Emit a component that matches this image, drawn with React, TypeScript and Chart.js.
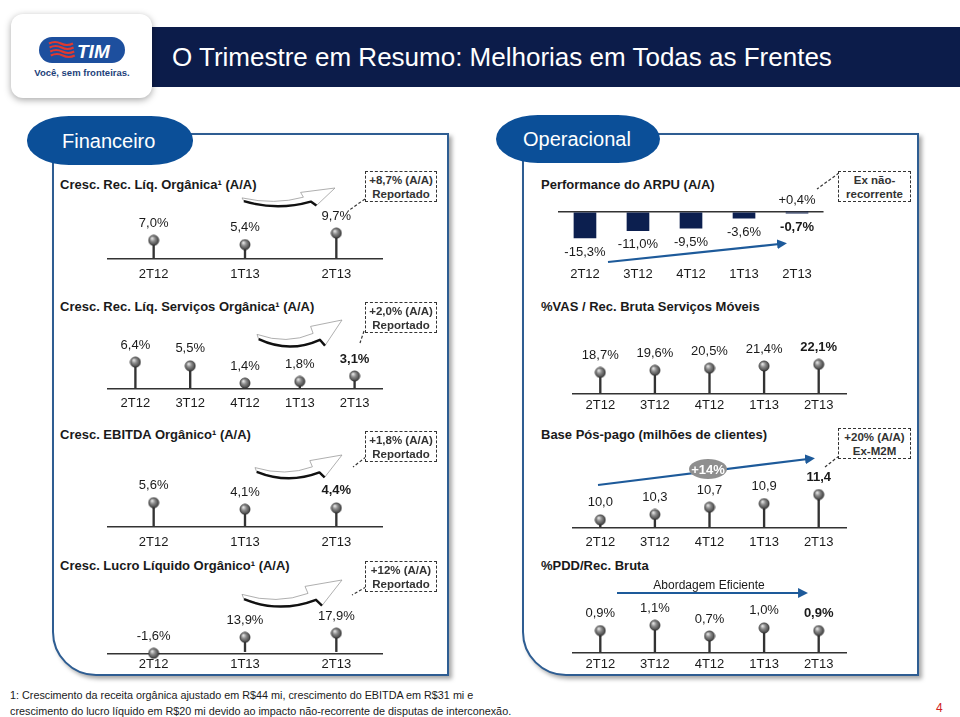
import React, { useEffect, useRef } from 'react';
import { Chart, registerables } from 'chart.js';
Chart.register(...registerables);

const FONT = '"Liberation Sans", Arial, Helvetica, sans-serif';
const INK = '#1a1a1a';
const NAVY = '#0c1f4f';
const BLUE_ARROW = '#1d5a9a';

// ---- data ----
const quartersShort = ['2T12', '1T13', '2T13'];
const quartersLong = ['2T12', '3T12', '4T12', '1T13', '2T13'];

const recLiqValues = [7.0, 5.4, 9.7];
const servicosValues = [6.4, 5.5, 1.4, 1.8, 3.1];
const ebitdaValues = [5.6, 4.1, 4.4];
const lucroValues = [-1.6, 13.9, 17.9];
const arpuValues = [-15.3, -11.0, -9.5, -3.6, -0.7];
const arpuExValues = [null, null, null, null, 0.4];
const vasValues = [18.7, 19.6, 20.5, 21.4, 22.1];
const posPagoValues = [10.0, 10.3, 10.7, 10.9, 11.4];
const pddValues = [0.9, 1.1, 0.7, 1.0, 0.9];

function makeBall(): HTMLCanvasElement {
  const c = document.createElement('canvas');
  c.width = 12;
  c.height = 12;
  const g = c.getContext('2d')!;
  const grad = g.createRadialGradient(4.3, 4, 0.4, 6, 6, 6.4);
  grad.addColorStop(0, '#e4e4e4');
  grad.addColorStop(0.35, '#8c8c8c');
  grad.addColorStop(1, '#262626');
  g.fillStyle = grad;
  g.beginPath();
  g.arc(6, 6, 5.2, 0, Math.PI * 2);
  g.fill();
  g.strokeStyle = 'rgba(30,30,30,0.7)';
  g.lineWidth = 0.6;
  g.stroke();
  return c;
}

const valueLabels = {
  id: 'valueLabels',
  afterDatasetsDraw(chart: any) {
    const ctx = chart.ctx;
    chart.data.datasets.forEach((ds: any, i: number) => {
      if (!ds.showValues) return;
      const meta = chart.getDatasetMeta(i);
      meta.data.forEach((el: any, j: number) => {
        const v = ds.data[j];
        if (v === null || v === undefined) return;
        const bold = ds.boldIndex === j;
        ctx.save();
        ctx.font = `${bold ? 'bold ' : ''}13px ${FONT}`;
        ctx.fillStyle = INK;
        ctx.textAlign = 'center';
        ctx.textBaseline = 'middle';
        let y: number;
        if (ds.labelMode === 'bar') y = v < 0 ? el.y + 14 : el.y - 11;
        else y = el.y - 17;
        const txt = (v > 0 && ds.plusSign ? '+' : '') + v.toFixed(1).replace('.', ',') + (ds.suffix ?? '%');
        ctx.fillText(txt, el.x, y);
        ctx.restore();
      });
    });
  },
};

type PinSpec = {
  left: number; top: number; width: number; axisY: number;
  cats: string[]; values: number[]; min: number; slope: number; pad: number;
  bold?: number; suffix?: string;
};

function PinChart({ spec }: { spec: PinSpec }) {
  const ref = useRef<HTMLCanvasElement>(null);
  const plotH = spec.axisY - spec.top;
  const axisH = 13 * 1.2 + 2 * spec.pad;
  const H = Math.ceil(plotH + axisH);
  const extra = H - plotH - axisH;
  useEffect(() => {
    const ball = makeBall();
    const chart = new Chart(ref.current!, {
      type: 'bar',
      data: {
        labels: spec.cats,
        datasets: [
          { type: 'bar', data: spec.values, backgroundColor: '#333', barThickness: 1.7, order: 2 } as any,
          {
            type: 'line', data: spec.values, showLine: false, pointStyle: ball, pointRadius: 6,
            order: 1, clip: false, showValues: true, boldIndex: spec.bold ?? -1, suffix: spec.suffix ?? '%',
          } as any,
        ],
      },
      options: {
        responsive: false, animation: false, events: [],
        layout: { padding: { left: 0, right: 0, top: 0, bottom: extra } },
        plugins: { legend: { display: false }, tooltip: { enabled: false } },
        scales: {
          x: {
            offset: true,
            grid: { display: false, drawTicks: false },
            border: { display: true, color: '#333', width: 1.5 },
            ticks: { color: INK, font: { family: FONT, size: 13 }, padding: spec.pad, maxRotation: 0, autoSkip: false },
          },
          y: { display: false, min: spec.min, max: spec.min + plotH / spec.slope },
        },
      } as any,
      plugins: [valueLabels],
    });
    return () => chart.destroy();
  }, []);
  return (
    <canvas ref={ref} width={spec.width} height={H}
      style={{ position: 'absolute', left: spec.left, top: spec.top, width: spec.width, height: H }} />
  );
}

function ArpuChart() {
  const ref = useRef<HTMLCanvasElement>(null);
  const left = 550, top = 188, width = 282, zeroY = 212, slope = 1.7, min = -20, pad = 21;
  const max = (zeroY - top) / slope;
  const plotH = (max - min) * slope;
  const axisH = 13 * 1.2 + 2 * pad;
  const H = Math.ceil(plotH + axisH);
  const extra = H - plotH - axisH;
  useEffect(() => {
    const chart = new Chart(ref.current!, {
      type: 'bar',
      data: {
        labels: quartersLong,
        datasets: [
          {
            data: arpuValues, backgroundColor: NAVY, barThickness: 22,
            showValues: true, labelMode: 'bar', boldIndex: 4,
          } as any,
          {
            data: arpuExValues, backgroundColor: 'rgba(255,255,255,0)', borderColor: NAVY, borderWidth: 1,
            borderSkipped: false, barThickness: 22, showValues: true, labelMode: 'bar', plusSign: true,
          } as any,
        ],
      },
      options: {
        responsive: false, animation: false, events: [],
        layout: { padding: { left: 0, right: 0, top: 0, bottom: extra } },
        plugins: { legend: { display: false }, tooltip: { enabled: false } },
        scales: {
          x: {
            stacked: true, offset: true,
            grid: { display: false, drawTicks: false },
            border: { display: false },
            ticks: { color: INK, font: { family: FONT, size: 13 }, padding: pad, maxRotation: 0, autoSkip: false },
          },
          y: {
            stacked: true, min, max,
            ticks: { display: false, stepSize: 5 },
            border: { display: false },
            grid: {
              drawTicks: false, lineWidth: 1.5,
              color: (c: any) => (c.tick && c.tick.value === 0 ? '#333' : 'rgba(0,0,0,0)'),
            },
          },
        },
      } as any,
      plugins: [valueLabels],
    });
    return () => chart.destroy();
  }, []);
  return (
    <canvas ref={ref} width={width} height={H}
      style={{ position: 'absolute', left, top, width, height: H }} />
  );
}

function Txt(props: { x: number; y: number; text: string; size?: number; bold?: boolean; color?: string; center?: boolean }) {
  const size = props.size ?? 13;
  return (
    <div style={{
      position: 'absolute', left: props.x, top: props.y - size * 0.6, lineHeight: `${size * 1.2}px`,
      fontSize: size, fontWeight: props.bold ? 'bold' : 'normal', color: props.color ?? INK,
      whiteSpace: 'nowrap', fontFamily: FONT, transform: props.center ? 'translateX(-50%)' : undefined,
    }}>{props.text}</div>
  );
}

function DashBox(props: { x: number; y: number; w: number; h: number; l1: string; l2: string }) {
  return (
    <div style={{
      position: 'absolute', left: props.x, top: props.y, width: props.w, height: props.h,
      border: '1.5px dashed #333', background: '#fff', boxSizing: 'border-box',
      fontFamily: FONT, fontSize: 11.5, fontWeight: 'bold', color: '#333', textAlign: 'center',
      lineHeight: '14px', paddingTop: 1, zIndex: 3,
    }}>
      <div>{props.l1}</div>
      <div>{props.l2}</div>
    </div>
  );
}

function swoosh(x: number, y: number, w: number, h: number) {
  const P = (u: number, v: number) => `${(x + u * w).toFixed(1)},${(y + v * h).toFixed(1)}`;
  const band = `M${P(0, 0.45)} Q${P(0.35, 0.78)} ${P(0.66, 0.42)} L${P(0.63, 0.2)} L${P(1, 0)} L${P(0.8, 0.8)} L${P(0.74, 0.62)} Q${P(0.38, 1.05)} ${P(0.02, 0.6)} Z`;
  const shadow = `M${P(0.02, 0.6)} Q${P(0.38, 1.05)} ${P(0.74, 0.62)} L${P(0.8, 0.8)}`;
  return { band, shadow };
}

const pinSpecs: PinSpec[] = [
  { left: 101, top: 195, width: 288, axisY: 259, cats: quartersShort, values: recLiqValues, min: 0, slope: 3.0, pad: 8 },
  { left: 101, top: 322, width: 288, axisY: 389, cats: quartersLong, values: servicosValues, min: 0, slope: 4.7, pad: 7, bold: 4 },
  { left: 101, top: 460, width: 288, axisY: 527, cats: quartersShort, values: ebitdaValues, min: 0, slope: 4.85, pad: 8, bold: 2 },
  { left: 101, top: 595, width: 288, axisY: 654, cats: quartersShort, values: lucroValues, min: -2.3, slope: 1.17, pad: 3 },
  { left: 566, top: 325, width: 287, axisY: 394, cats: quartersLong, values: vasValues, min: 9.64, slope: 2.65, pad: 4, bold: 4 },
  { left: 566, top: 455, width: 287, axisY: 528, cats: quartersLong, values: posPagoValues, min: 9.55, slope: 20, pad: 7, bold: 4, suffix: '' },
  { left: 566, top: 585, width: 287, axisY: 653, cats: quartersLong, values: pddValues, min: 0.067, slope: 30, pad: 4, bold: 4 },
];

export default function App() {
  const swooshes = [
    swoosh(242, 188, 93, 22),
    swoosh(257, 320, 85, 32),
    swoosh(255, 455, 87, 28),
    swoosh(242, 580, 100, 32),
  ];
  return (
    <div style={{ position: 'absolute', left: 0, top: 0, width: 960, height: 717, background: '#fff', overflow: 'hidden', fontFamily: FONT }}>
      {/* header */}
      <div style={{ position: 'absolute', left: 152, top: 27, width: 808, height: 60, background: '#0c1c4a' }} />
      <div style={{ position: 'absolute', left: 172, top: 27, height: 60, lineHeight: '60px', color: '#fff', fontSize: 26, fontFamily: FONT, whiteSpace: 'nowrap' }}>
        O Trimestre em Resumo: Melhorias em Todas as Frentes
      </div>
      <div style={{ position: 'absolute', left: 11, top: 14, width: 141, height: 84, background: '#fff', borderRadius: 12, boxShadow: '0 2px 7px rgba(0,0,0,0.35)' }} />
      <svg width={960} height={110} style={{ position: 'absolute', left: 0, top: 0 }}>
        <rect x={39} y={37} width={86} height={26} rx={13} fill="#1d4f9e" />
        {[43.5, 47.5, 51.5, 55.5].map((yy, i) => (
          <path key={i} d={`M${49 + i * 0.6},${yy} q6,-3 12,0 t12,0`} stroke="#e2392e" strokeWidth={2.2} fill="none" />
        ))}
        <text x={77} y={58} fill="#fff" fontSize={19} fontWeight="bold" fontStyle="italic" fontFamily={FONT}>TIM</text>
        <text x={82} y={76} fill="#1d3f7a" fontSize={9.5} fontWeight="bold" fontFamily={FONT} textAnchor="middle">Você, sem fronteiras.</text>
      </svg>

      {/* panels */}
      <div style={{ position: 'absolute', left: 52, top: 133, width: 397, height: 543, border: '2px solid #2e5d92', borderBottomLeftRadius: 44, boxShadow: '3px 3px 4px rgba(0,0,0,0.35)', background: '#fff', boxSizing: 'border-box' }} />
      <div style={{ position: 'absolute', left: 522, top: 133, width: 397, height: 543, border: '2px solid #2e5d92', borderBottomLeftRadius: 44, boxShadow: '3px 3px 4px rgba(0,0,0,0.35)', background: '#fff', boxSizing: 'border-box' }} />
      <div style={{ position: 'absolute', left: 27, top: 116, width: 166, height: 49, background: '#0b4f98', borderRadius: '42px / 24px' }} />
      <div style={{ position: 'absolute', left: 496, top: 115, width: 164, height: 48, background: '#0b4f98', borderRadius: '42px / 24px' }} />
      <Txt x={62} y={141} text="Financeiro" size={20} color="#fff" />
      <Txt x={523} y={139} text="Operacional" size={20} color="#fff" />

      {/* chart titles */}
      <Txt x={60} y={185} text="Cresc. Rec. Líq. Orgânica¹ (A/A)" bold />
      <Txt x={60} y={307} text="Cresc. Rec. Líq. Serviços Orgânica¹ (A/A)" bold />
      <Txt x={60} y={435} text="Cresc. EBITDA Orgânico¹  (A/A)" bold />
      <Txt x={60} y={566} text="Cresc. Lucro Líquido Orgânico¹ (A/A)" bold />
      <Txt x={541} y={185} text="Performance do ARPU (A/A)" bold />
      <Txt x={541} y={307} text="%VAS / Rec. Bruta Serviços Móveis" bold />
      <Txt x={541} y={435} text="Base Pós-pago (milhões de clientes)" bold />
      <Txt x={541} y={566} text="%PDD/Rec. Bruta" bold />

      {/* charts */}
      {pinSpecs.map((s, i) => <PinChart key={i} spec={s} />)}
      <ArpuChart />

      {/* decorations */}
      <svg width={960} height={717} style={{ position: 'absolute', left: 0, top: 0, pointerEvents: 'none', zIndex: 2 }}>
        <defs>
          <marker id="bh" viewBox="0 0 10 10" refX="7" refY="5" markerWidth="4.5" markerHeight="4.5" orient="auto">
            <path d="M0,0 L10,5 L0,10 z" fill={BLUE_ARROW} />
          </marker>
        </defs>
        {swooshes.map((s, i) => (
          <g key={i}>
            <path d={s.band} fill="#fff" stroke="#9a9a9a" strokeWidth={0.8} strokeLinejoin="round" />
            <path d={s.shadow} fill="none" stroke="#111" strokeWidth={2.4} strokeLinejoin="round" />
          </g>
        ))}
        <line x1={608} y1={262} x2={784} y2={243.5} stroke={BLUE_ARROW} strokeWidth={2.2} markerEnd="url(#bh)" />
        <line x1={598} y1={485} x2={812} y2={458.5} stroke={BLUE_ARROW} strokeWidth={2.2} markerEnd="url(#bh)" />
        <line x1={617} y1={593} x2={805} y2={593} stroke={BLUE_ARROW} strokeWidth={2.2} markerEnd="url(#bh)" />
        <ellipse cx={708} cy={469} rx={19} ry={10} fill="#8f8f8f" />
        <text x={708} y={473.5} fill="#fff" fontSize={13} fontWeight="bold" fontFamily={FONT} textAnchor="middle">+14%</text>
        <g stroke="#333" strokeWidth={1.2} strokeDasharray="3,2" fill="none">
          <line x1={365} y1={199} x2={348} y2={211} />
          <line x1={364} y1={331} x2={360} y2={343} />
          <line x1={366} y1={457} x2={353} y2={467} />
          <line x1={366} y1={587} x2={352} y2={595} />
          <line x1={839} y1={173} x2={817} y2={189} />
          <line x1={839} y1={456} x2={825} y2={467} />
        </g>
      </svg>

      <DashBox x={365} y={171} w={72} h={31} l1="+8,7% (A/A)" l2="Reportado" />
      <DashBox x={365} y={302} w={72} h={31} l1="+2,0% (A/A)" l2="Reportado" />
      <DashBox x={365} y={431} w={72} h={31} l1="+1,8% (A/A)" l2="Reportado" />
      <DashBox x={365} y={561} w={72} h={31} l1="+12% (A/A)" l2="Reportado" />
      <DashBox x={838} y={171} w={73} h={31} l1="Ex não-" l2="recorrente" />
      <DashBox x={838} y={428} w={73} h={31} l1="+20% (A/A)" l2="Ex-M2M" />

      <Txt x={709} y={585} text="Abordagem Eficiente" size={12} center />

      {/* footnote */}
      <Txt x={10} y={695} text="1: Crescimento da receita orgânica ajustado em R$44 mi, crescimento do EBITDA em R$31 mi e" size={10.8} />
      <Txt x={10} y={711} text="crescimento do lucro líquido em R$20 mi devido ao impacto não-recorrente de disputas de interconexão." size={10.8} />
      <Txt x={936} y={708} text="4" size={12} color="#d02020" />
    </div>
  );
}
